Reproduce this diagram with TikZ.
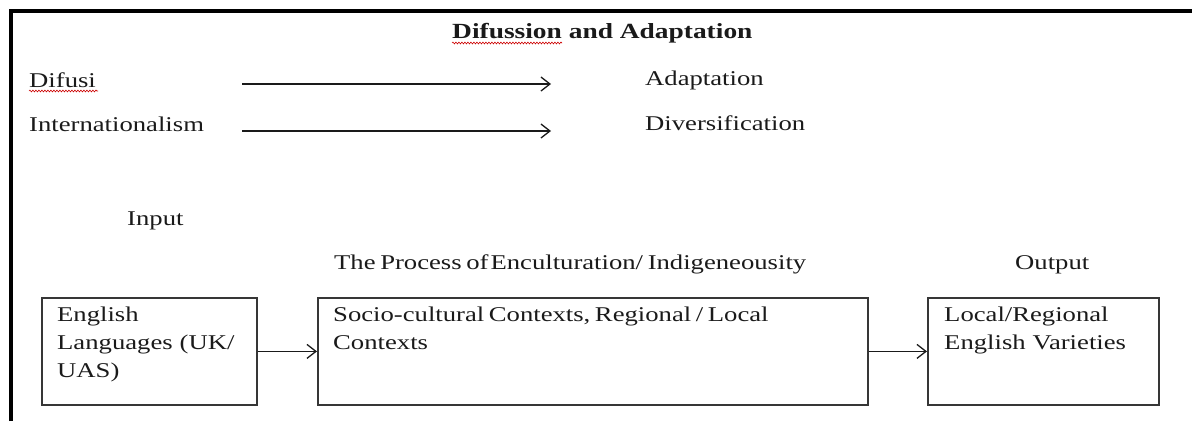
\documentclass[tikz,border=0pt]{standalone}
\usepackage{fontspec}
\setmainfont{Liberation Serif}[FakeStretch=1.27]
\usetikzlibrary{arrows.meta,decorations.pathmorphing}
\definecolor{ink}{HTML}{1A1A1A}
\definecolor{edge}{HTML}{363636}
\tikzset{
  txt/.style={inner sep=0pt, anchor=base west, text=ink},
  boxtxt/.style={inner sep=0pt, anchor=base west, text=ink, align=left, text width=#1},
  box/.style={draw=edge, line width=1.8pt, inner sep=0pt, anchor=north west},
  arr/.style={draw=ink, line width=1.3pt, -{Straight Barb[length=9pt,width=14pt,line width=1.3pt]}},
  squig/.style={draw=red!80!black, line width=0.6pt, decorate, decoration={snake, amplitude=0.9pt, segment length=3pt}},
  frame/.style={line width=4pt, draw=black}
}
\begin{document}
\begin{tikzpicture}[x=1pt, y=-1pt, font=\fontsize{21}{28}\selectfont]
\useasboundingbox (0,0) rectangle (1192,421);
% frame
\draw[frame] (10.5,421) -- (10.5,10.7) -- (1192,10.7);
% title
\node[txt, font=\fontsize{21.6}{28}\selectfont\bfseries] (title) at (452,38) {Difussion and Adaptation};
\draw[squig] (452,43) -- (562,43);
% top rows
\node[txt] (difusi) at (29,87) {Difusi};
\draw[squig] (29,91) -- (98,91);
\node[txt] (intl) at (29,131) {Internationalism};
\node[txt] (adapt) at (645,85) {Adaptation};
\node[txt] (divers) at (645,130) {Diversification};
\coordinate (a1s) at (242,84);
\coordinate (a1e) at (551,84);
\coordinate (a2s) at (242,131);
\coordinate (a2e) at (551,131);
\draw[arr] (a1s) -- (a1e);
\draw[arr] (a2s) -- (a2e);
% labels
\node[txt] (input) at (127,225) {Input};
\node[txt] (process) at (334,269) {\spaceskip=4.6pt The Process of\hspace{2pt}Enculturation/ Indigeneousity};
\node[txt] (output) at (1015,269) {Output};
% boxes
\node[box, minimum width=215pt, minimum height=107pt] (b1) at (41,297) {};
\node[box, minimum width=550pt, minimum height=107pt] (b2) at (317,297) {};
\node[box, minimum width=231pt, minimum height=107pt] (b3) at (927,297) {};
\node[boxtxt=200pt] (t1) at (57,321) {English\\Languages (UK/\\UAS)};
\node[boxtxt=530pt] (t2) at (333,321) {\spaceskip=4.6pt Socio-cultural Contexts, Regional / Local\\Contexts};
\node[boxtxt=215pt] (t3) at (944,321) {Local/Regional\\English Varieties};
\draw[arr] (b1.east) -- (b2.west);
\draw[arr] (b2.east) -- (b3.west);
\end{tikzpicture}
\end{document}
